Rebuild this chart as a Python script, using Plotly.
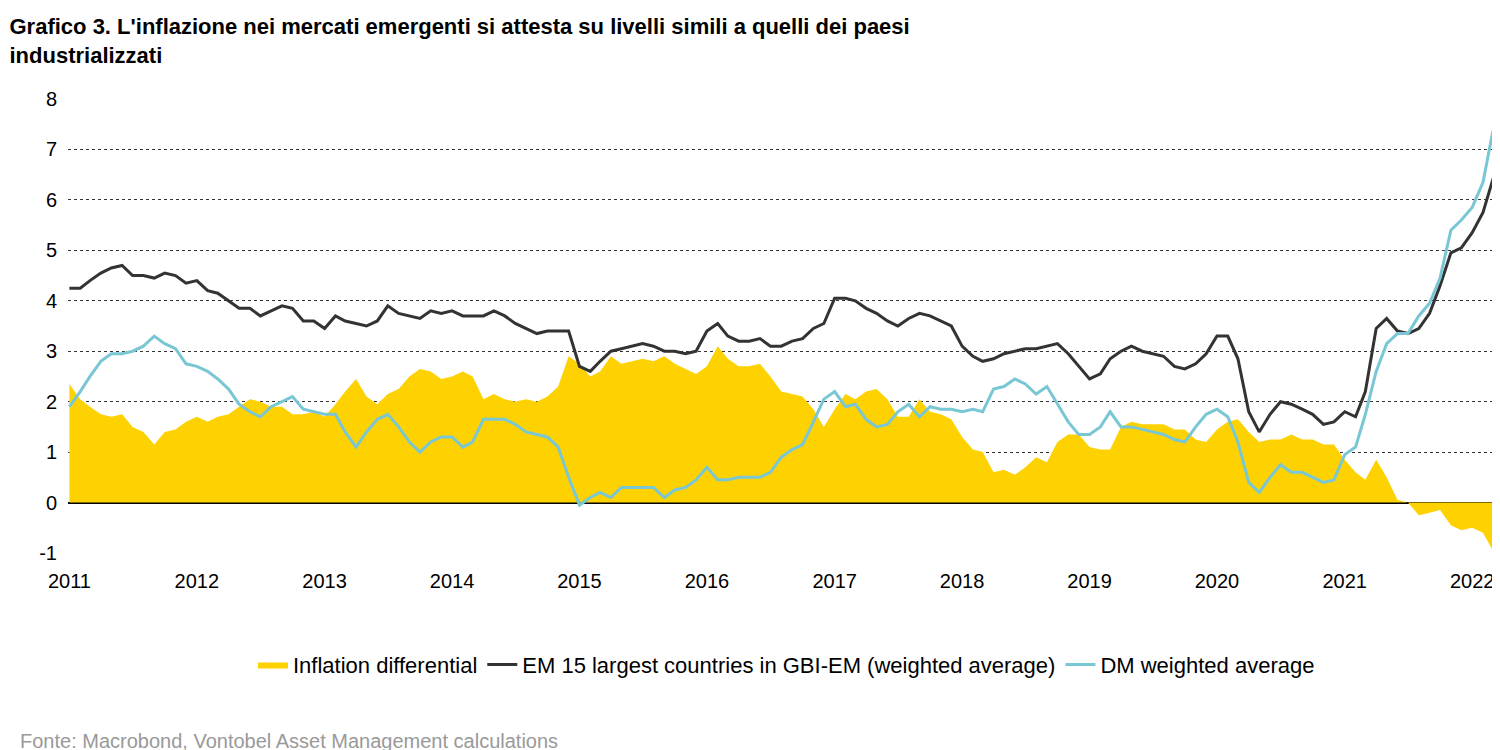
import plotly.graph_objects as go
import pandas as pd

dates = pd.date_range("2011-01-01", "2022-04-01", freq="MS")

em = [4.25,4.25,4.4,4.55,4.65,4.7,4.5,4.5,4.45,4.55,4.5,4.35,
      4.4,4.2,4.15,4.0,3.85,3.85,3.7,3.8,3.9,3.85,3.6,3.6,
      3.45,3.7,3.6,3.55,3.5,3.6,3.9,3.75,3.7,3.65,3.8,3.75,
      3.8,3.7,3.7,3.7,3.8,3.7,3.55,3.45,3.35,3.4,3.4,3.4,
      2.7,2.6,2.8,3.0,3.05,3.1,3.15,3.1,3.0,3.0,2.95,3.0,
      3.4,3.55,3.3,3.2,3.2,3.25,3.1,3.1,3.2,3.25,3.45,3.55,
      4.05,4.05,4.0,3.85,3.75,3.6,3.5,3.65,3.75,3.7,3.6,3.5,
      3.1,2.9,2.8,2.85,2.95,3.0,3.05,3.05,3.1,3.15,2.95,2.7,
      2.45,2.55,2.85,3.0,3.1,3.0,2.95,2.9,2.7,2.65,2.75,2.95,
      3.3,3.3,2.85,1.8,1.4,1.75,2.0,1.95,1.85,1.75,1.55,1.6,
      1.8,1.7,2.2,3.45,3.65,3.4,3.35,3.45,3.75,4.3,4.95,5.05,
      5.35,5.75,6.4,7.0]

dm = [1.9,2.2,2.5,2.8,2.95,2.95,3.0,3.1,3.3,3.15,3.05,2.75,
      2.7,2.6,2.45,2.25,1.95,1.8,1.7,1.9,2.0,2.1,1.85,1.8,
      1.75,1.75,1.4,1.1,1.4,1.65,1.75,1.5,1.2,1.0,1.2,1.3,
      1.3,1.1,1.2,1.65,1.65,1.65,1.55,1.4,1.35,1.3,1.1,0.5,
      -0.05,0.1,0.2,0.1,0.3,0.3,0.3,0.3,0.1,0.25,0.3,0.45,
      0.7,0.45,0.45,0.5,0.5,0.5,0.6,0.9,1.05,1.15,1.6,2.05,
      2.2,1.9,1.95,1.65,1.5,1.55,1.8,1.95,1.7,1.9,1.85,1.85,
      1.8,1.85,1.8,2.25,2.3,2.45,2.35,2.15,2.3,1.95,1.6,1.35,
      1.35,1.5,1.8,1.5,1.5,1.45,1.4,1.35,1.25,1.2,1.5,1.75,
      1.85,1.7,1.2,0.4,0.2,0.5,0.75,0.6,0.6,0.5,0.4,0.45,
      0.95,1.1,1.75,2.6,3.15,3.35,3.35,3.7,3.95,4.45,5.4,5.6,
      5.85,6.35,7.35,7.45]

diff = [round(a - b, 2) for a, b in zip(em, dm)]

y_ticks = [-1, 0, 1, 2, 3, 4, 5, 6, 7, 8]
y_labels = ["-1", "0", "1", "2", "3", "4", "5", "6", "7", "8"]

font = "Liberation Sans, Arial, sans-serif"
fig = go.Figure()
fig.add_trace(go.Scatter(x=dates, y=diff, name="Inflation differential", mode="lines",
                         fill="tozeroy", fillcolor="#FDD200", line=dict(width=0, color="#FDD200")))
fig.add_trace(go.Scatter(x=dates, y=em, name="EM 15 largest countries in GBI-EM (weighted average)",
                         mode="lines", line=dict(color="#333333", width=3)))
fig.add_trace(go.Scatter(x=dates, y=dm, name="DM weighted average",
                         mode="lines", line=dict(color="#79C7D4", width=3)))

fig.update_layout(
    width=1500, height=750, plot_bgcolor="white", paper_bgcolor="white",
    margin=dict(l=60, r=3, t=91, b=205, autoexpand=False),
    font=dict(family=font, size=20, color="#000000"),
    title=dict(text="<b>Grafico 3. L'inflazione nei mercati emergenti si attesta su livelli simili a quelli dei paesi<br>industrializzati</b>",
               x=0.001, xanchor="left", yref="container", y=0.965, yanchor="top",
               font=dict(size=22, family=font)),
    legend=dict(orientation="h", x=0.5, xanchor="center", y=-0.2, yanchor="top",
                font=dict(size=22)),
    showlegend=True,
    xaxis=dict(type="date", range=["2010-12-28", "2022-04-05"], dtick="M12", tick0="2011-01-01",
               tickformat="%Y", showgrid=False, ticks="", tickfont=dict(size=20),
               automargin=False, ticklabelstandoff=14),
    yaxis=dict(range=[-1, 8], tickvals=y_ticks, ticktext=y_labels, showgrid=True,
               gridcolor="#333333", griddash="dot", automargin=False,
               gridwidth=1, zeroline=True, zerolinecolor="#000000", zerolinewidth=1.5,
               tickfont=dict(size=20), ticks="", ticklabelstandoff=10),
)
fig.add_annotation(text="Fonte: Macrobond, Vontobel Asset Management calculations",
                   xref="paper", yref="paper", x=-0.035, y=-0.414, xanchor="left", yanchor="middle",
                   showarrow=False, font=dict(size=20, color="#999999"))
fig.write_html("out.html")
